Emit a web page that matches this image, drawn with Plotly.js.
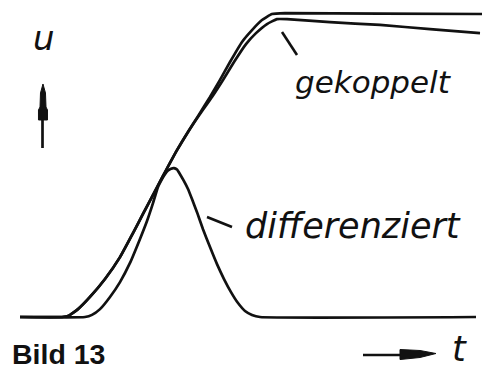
<!DOCTYPE html>
<html>
<head>
<meta charset="utf-8">
<script src="https://cdn.plot.ly/plotly-3.0.1.min.js"></script>
<style>
  html, body { margin: 0; padding: 0; background: #fff; }
  #chart { width: 489px; height: 369px; }
</style>
</head>
<body>
<div id="chart"></div>
<script>
// Input pulse edge (upper line of the pair): time t and voltage u (plateau = 100)
const tInput = [0, 4.2, 4.8, 5.8, 7.0, 8.5, 10.0, 11.3, 12.3, 13.2, 14.3, 15.7, 16.8, 17.8, 19.0, 20.0, 21.0, 22.2, 23.2, 24.2, 25.2, 26.5, 36.0, 46.2];
const uInput = [0, 0, 0.3, 2.6, 6.6, 12.5, 19.7, 27.6, 33.9, 39.5, 46.4, 54.9, 60.9, 66.1, 72.4, 78.0, 83.9, 90.5, 94.4, 97.7, 99.7, 100.0, 99.8, 99.7];

// Coupled output (lower line of the pair): follows the input, then sags slowly
const tCoupled = [0, 4.2, 4.8, 5.8, 7.0, 8.5, 10.0, 11.3, 12.3, 13.2, 14.3, 15.7, 16.8, 18.0, 19.2, 20.3, 21.4, 22.6, 23.6, 24.7, 25.7, 26.7, 31.0, 36.0, 41.0, 46.0];
const uCoupled = [0, 0, 0.3, 2.6, 6.6, 12.5, 19.7, 27.6, 33.9, 39.5, 46.4, 54.9, 60.9, 66.8, 72.4, 78.0, 83.9, 89.8, 93.4, 96.4, 98.0, 98.0, 97.0, 96.1, 94.7, 93.4];

// Differentiated output: a single bell-shaped pulse
const tDiff = [0, 6.5, 7.2, 8.0, 9.0, 10.0, 11.0, 12.0, 12.7, 13.3, 13.8, 14.2, 14.5, 14.8, 15.1, 15.4, 15.7, 16.0, 16.4, 16.8, 17.2, 17.7, 18.3, 19.0, 19.7, 20.4, 21.1, 21.8, 22.5, 23.2, 24.0, 45.6];
const uDiff = [0, 0, 0.7, 2.6, 6.6, 11.5, 17.8, 25.7, 31.6, 37.5, 42.8, 45.4, 47.0, 48.2, 48.8, 49.0, 48.5, 47.0, 44.7, 42.1, 38.8, 34.5, 28.9, 23.0, 17.4, 12.5, 8.2, 4.6, 2.0, 0.7, 0, 0];

// Hand-lettered captions
const labelU = 'u';
const labelT = 't';
const labelCoupled = 'gekoppelt';
const labelDiff = 'differenziert';
const figCaption = 'Bild 13';

const ink = '#111111';
const lineStyle = { color: ink, width: 2.7, shape: 'spline', smoothing: 0.4 };

const traces = [
  { x: tInput, y: uInput, name: 'Eingang', mode: 'lines', line: lineStyle, hoverinfo: 'skip' },
  { x: tCoupled, y: uCoupled, name: labelCoupled, mode: 'lines', line: lineStyle, hoverinfo: 'skip' },
  { x: tDiff, y: uDiff, name: labelDiff, mode: 'lines', line: lineStyle, hoverinfo: 'skip' }
];

// pixel helpers for decorations placed on the paper
const W = 489, H = 369;
const px = x => x / W;
const py = y => 1 - y / H;
const pathFrom = pts => pts.map((p, i) => (i ? 'L' : 'M') + px(p[0]).toFixed(4) + ',' + py(p[1]).toFixed(4)).join(' ') + ' Z';
const paperLine = (x0, y0, x1, y1, w) => ({
  type: 'line', xref: 'paper', yref: 'paper',
  x0: px(x0), y0: py(y0), x1: px(x1), y1: py(y1),
  line: { color: ink, width: w }
});

const shapes = [
  // leader strokes to the curves
  paperLine(282, 32, 297, 55, 2.6),
  paperLine(207, 217, 232, 227, 2.6),
  // vertical u arrow: shaft + blade head
  paperLine(42.5, 148, 42.5, 118, 2.7),
  { type: 'path', xref: 'paper', yref: 'paper', fillcolor: ink, line: { color: ink, width: 1 },
    path: pathFrom([[43, 84], [45.5, 93], [46, 107], [47.5, 110], [47.5, 120], [38.5, 120], [38.5, 110], [40, 107], [40.5, 93]]) },
  // horizontal t arrow: shaft + blade head
  paperLine(363, 355, 402, 355, 2.3),
  { type: 'path', xref: 'paper', yref: 'paper', fillcolor: ink, line: { color: ink, width: 1 },
    path: pathFrom([[400, 349.5], [420, 350.5], [436, 353.5], [420, 357.5], [400, 359.5]]) }
];

const hand = { family: 'DejaVu Sans', color: ink, style: 'italic' };
const note = (text, x, y, size, xanchor, yanchor, font) => ({
  text: text, xref: 'paper', yref: 'paper', x: px(x), y: py(y),
  xanchor: xanchor, yanchor: yanchor, showarrow: false,
  font: Object.assign({}, font || hand, { size: size })
});

const annotations = [
  note(labelU, 44, 38, 34, 'center', 'middle'),
  note(labelCoupled, 373, 82, 31, 'center', 'middle'),
  note(labelDiff, 353, 226, 35, 'center', 'middle'),
  note(labelT, 459, 349, 35, 'center', 'middle'),
  note(figCaption, 10, 354, 28.5, 'left', 'middle', { family: 'Liberation Sans', color: ink, weight: 'bold' })
];

const hiddenAxis = { visible: false, showgrid: false, zeroline: false, fixedrange: true };

const layout = {
  width: W, height: H,
  margin: { l: 0, r: 0, t: 0, b: 0, pad: 0 },
  paper_bgcolor: '#ffffff', plot_bgcolor: '#ffffff',
  showlegend: false,
  xaxis: Object.assign({ range: [-2, 46.9] }, hiddenAxis),
  yaxis: Object.assign({ range: [-17.1, 104.3] }, hiddenAxis),
  shapes: shapes,
  annotations: annotations
};

Plotly.newPlot('chart', traces, layout, { staticPlot: true, displayModeBar: false });
</script>
</body>
</html>
